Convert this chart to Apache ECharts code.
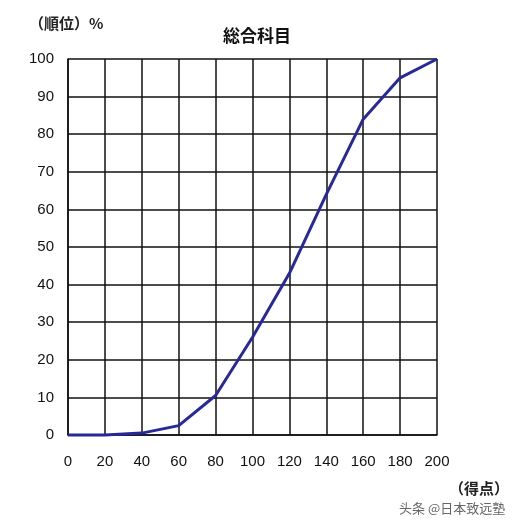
<!DOCTYPE html>
<html><head><meta charset="utf-8">
<script src="https://cdn.jsdelivr.net/npm/echarts@6/dist/echarts.min.js"></script>
<style>html,body{margin:0;padding:0;background:#fff}#c{width:514px;height:524px}</style>
</head><body><div id="c"></div>
<script>
const scores = [0, 20, 40, 60, 80, 100, 120, 140, 160, 180, 200];
const ranks = [0, 0, 0.5, 2.5, 10.5, 26, 43, 64, 84, 95, 100];
const title = '総合科目';
const yName = '（順位）%';
const xName = '（得点）';
const watermark = '头条 @日本致远塾';

const chart = echarts.init(document.getElementById('c'));
const font = '"Noto Sans CJK JP", "Liberation Sans", sans-serif';
const numFont = '"Liberation Sans", Arial, sans-serif';
chart.setOption({
  animation: false,
  backgroundColor: '#fff',
  title: [
    {text: title, left: 252, top: 22, textAlign: 'center',
     textStyle: {fontSize: 17, fontWeight: 'bold', color: '#111', fontFamily: font}},
    {text: yName, left: 24, top: 11,
     textStyle: {fontSize: 15, fontWeight: 'bold', color: '#222', fontFamily: font}},
    {text: xName, right: 0, top: 476,
     textStyle: {fontSize: 15, fontWeight: 'bold', color: '#222', fontFamily: font}},
    {text: watermark, left: 394, top: 497,
     textStyle: {fontSize: 13, fontWeight: 'normal', color: '#666', fontFamily: font}}
  ],
  grid: {left: 68, right: 77, top: 59, bottom: 89},
  xAxis: {
    type: 'value', min: 0, max: 200, interval: 20,
    axisLine: {show: true, lineStyle: {color: '#111', width: 1.5}},
    axisTick: {show: false},
    splitLine: {show: true, lineStyle: {color: '#111', width: 1.5}},
    axisLabel: {margin: 19, fontSize: 15, color: '#111', fontFamily: numFont}
  },
  yAxis: {
    type: 'value', min: 0, max: 100, interval: 10,
    axisLine: {show: true, lineStyle: {color: '#111', width: 1.5}},
    axisTick: {show: false},
    splitLine: {show: true, lineStyle: {color: '#111', width: 1.5}},
    axisLabel: {margin: 14, fontSize: 15, color: '#111', fontFamily: numFont}
  },
  series: [{
    type: 'line',
    data: scores.map((s, i) => [s, ranks[i]]),
    symbol: 'none',
    lineStyle: {color: '#27289a', width: 3},
    clip: false
  }]
});
</script></body></html>
